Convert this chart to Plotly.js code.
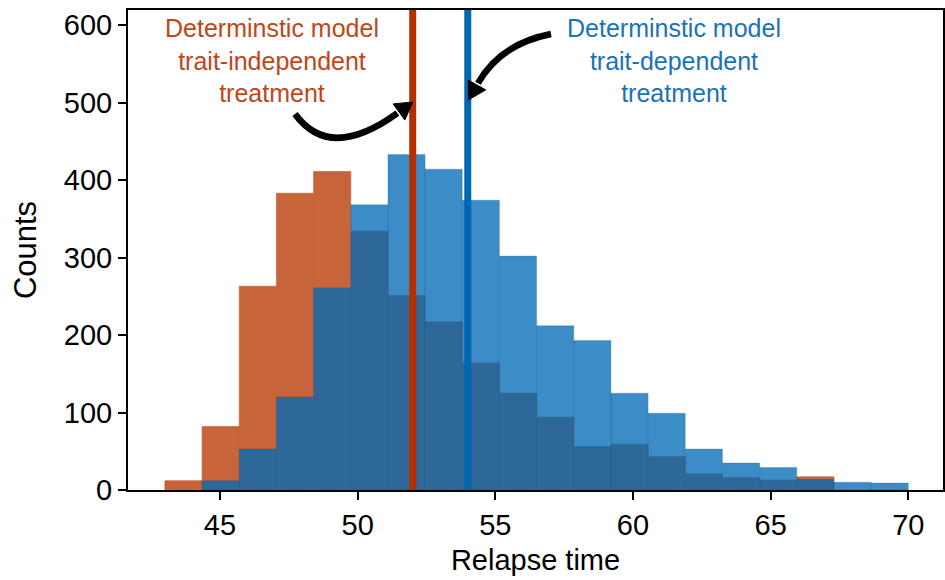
<!DOCTYPE html>
<html>
<head>
<meta charset="utf-8">
<script src="https://cdn.plot.ly/plotly-3.0.1.min.js"></script>
<style>html,body{margin:0;padding:0;background:#fff;}</style>
</head>
<body>
<div id="chart" style="width:945px;height:580px;"></div>
<script>
// ---- data ----
const binWidth = 1.35;
const independentFirstEdge = 43.0;   // trait-independent treatment (orange)
const dependentFirstEdge = 44.35;    // trait-dependent treatment (blue)
const independentCounts = [12, 82, 263, 383, 411, 334, 251, 217, 164, 125, 94, 56, 59, 43, 21, 16, 13, 17];
const dependentCounts   = [12, 53, 120, 261, 368, 433, 414, 374, 302, 212, 193, 125, 99, 53, 35, 29, 14, 10, 9];
const independentDeterministic = 52.0;
const dependentDeterministic = 54.0;
const xTickVals = [45, 50, 55, 60, 65, 70];
const yTickVals = [0, 100, 200, 300, 400, 500, 600];
const labelIndependent = "Determinstic model<br>trait-independent<br>treatment";
const labelDependent = "Determinstic model<br>trait-dependent<br>treatment";
const xTitle = "Relapse time";
const yTitle = "Counts";

// ---- layout helpers ----
const xRange = [41.66, 71.26];
const yRange = [0, 619.4];
const plotL = 128, plotR = 943, plotT = 10, plotB = 490;
const px2x = p => xRange[0] + (p - plotL) / (plotR - plotL) * (xRange[1] - xRange[0]);
const py2y = p => yRange[0] + (plotB - p) / (plotB - plotT) * (yRange[1] - yRange[0]);
const P = (a, b) => px2x(a) + ',' + py2y(b);

const leftEdges = (first, n) => Array.from({length: n}, (_, i) => first + i * binWidth);

const orange = '#c8643a';
const blueFill = 'rgba(0,106,182,0.77)';
const font = 'Liberation Sans, Arial, Helvetica, sans-serif';

const traces = [
  {
    type: 'bar',
    x: leftEdges(independentFirstEdge, independentCounts.length),
    y: independentCounts,
    width: binWidth,
    offset: 0,
    marker: {color: orange, line: {color: '#bb5a33', width: 0.6}},
    hoverinfo: 'skip',
    showlegend: false
  },
  {
    type: 'bar',
    x: leftEdges(dependentFirstEdge, dependentCounts.length),
    y: dependentCounts,
    width: binWidth,
    offset: 0,
    marker: {color: blueFill, line: {color: 'rgba(0,80,140,0.35)', width: 0.6}},
    hoverinfo: 'skip',
    showlegend: false
  }
];

// curved arrows (decorations), defined in pixel space and converted
function arrow(tail, ctrl, base, len, half) {
  const dx = base[0] - ctrl[0], dy = base[1] - ctrl[1];
  const d = Math.hypot(dx, dy);
  const ux = dx / d, uy = dy / d;
  const tip = [base[0] + ux * len, base[1] + uy * len];
  const c1 = [base[0] - uy * half, base[1] + ux * half];
  const c2 = [base[0] + uy * half, base[1] - ux * half];
  return [
    {type: 'path', xref: 'x', yref: 'y', layer: 'above',
     path: 'M ' + P(tail[0], tail[1]) + ' Q ' + P(ctrl[0], ctrl[1]) + ' ' + P(base[0] - ux * 2, base[1] - uy * 2),
     line: {color: 'black', width: 6.5}},
    {type: 'path', xref: 'x', yref: 'y', layer: 'above',
     path: 'M ' + P(tip[0], tip[1]) + ' L ' + P(c1[0], c1[1]) + ' L ' + P(c2[0], c2[1]) + ' Z',
     fillcolor: 'black', line: {color: 'black', width: 1}}
  ];
}

const shapes = [
  {type: 'line', xref: 'x', yref: 'paper', x0: independentDeterministic, x1: independentDeterministic, y0: 0, y1: 1,
   line: {color: '#b52e00', width: 7}, layer: 'above'},
  {type: 'line', xref: 'x', yref: 'paper', x0: dependentDeterministic, x1: dependentDeterministic, y0: 0, y1: 1,
   line: {color: '#0067b3', width: 7}, layer: 'above'},
  ...arrow([295, 114], [330, 162], [399, 112], 17, 10),
  ...arrow([551, 34], [500, 44], [477, 85], 17, 10)
];

const layout = {
  width: 945, height: 580,
  margin: {l: plotL, r: 945 - plotR, t: plotT, b: 580 - plotB, pad: 0},
  paper_bgcolor: 'white', plot_bgcolor: 'white',
  barmode: 'overlay',
  font: {family: font, color: 'black'},
  xaxis: {
    range: xRange, tickvals: xTickVals, ticktext: xTickVals.map(String),
    ticks: 'outside', ticklen: 8, tickwidth: 2, tickcolor: 'black',
    showline: true, linewidth: 2, linecolor: 'black', mirror: true,
    showgrid: false, zeroline: false,
    tickfont: {size: 29, family: font, color: 'black'},
    title: {text: xTitle, font: {size: 29, family: font, color: 'black'}, standoff: 10},
    automargin: false
  },
  yaxis: {
    range: yRange, tickvals: yTickVals, ticktext: yTickVals.map(String),
    ticks: 'outside', ticklen: 8, tickwidth: 2, tickcolor: 'black',
    showline: true, linewidth: 2, linecolor: 'black', mirror: true,
    showgrid: false, zeroline: false,
    tickfont: {size: 29, family: font, color: 'black'},
    title: {text: yTitle, font: {size: 31, family: font, color: 'black'}, standoff: 18},
    automargin: false
  },
  shapes: shapes,
  annotations: [
    {xref: 'paper', yref: 'paper', x: (272 - plotL) / (plotR - plotL), y: (plotB - 61) / (plotB - plotT),
     xanchor: 'center', yanchor: 'middle', showarrow: false, align: 'center',
     text: labelIndependent, font: {size: 25, family: font, color: '#c0461a'}},
    {xref: 'paper', yref: 'paper', x: (674 - plotL) / (plotR - plotL), y: (plotB - 61) / (plotB - plotT),
     xanchor: 'center', yanchor: 'middle', showarrow: false, align: 'center',
     text: labelDependent, font: {size: 25, family: font, color: '#1a72b8'}}
  ]
};

Plotly.newPlot('chart', traces, layout, {displayModeBar: false, staticPlot: true});
</script>
</body>
</html>
